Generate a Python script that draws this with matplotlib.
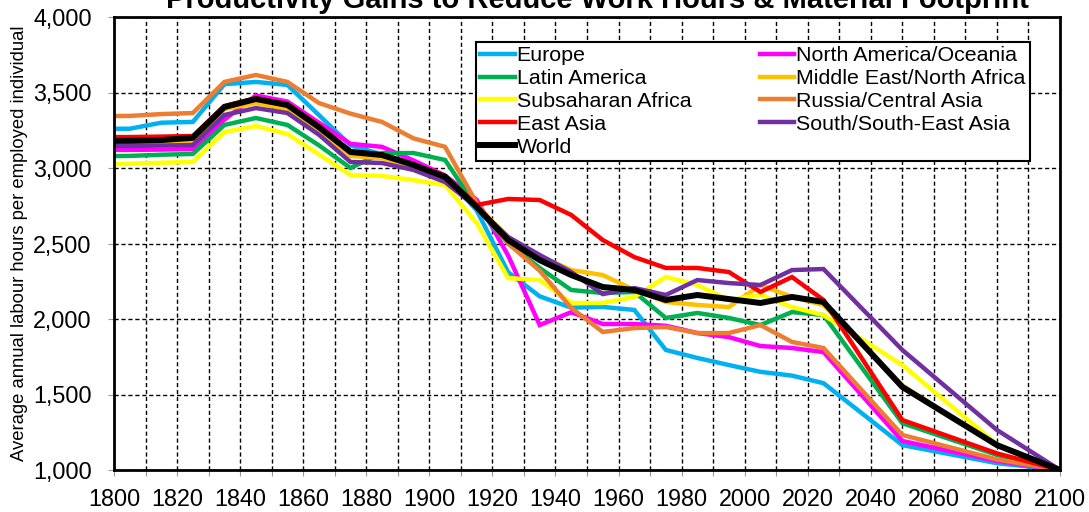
import matplotlib
matplotlib.use("Agg")
import matplotlib.pyplot as plt
from matplotlib.ticker import MultipleLocator, FuncFormatter

years = [1800, 1805, 1815, 1825, 1835, 1845, 1855, 1865, 1875, 1885, 1895, 1905, 1915,
         1925, 1935, 1945, 1955, 1965, 1975, 1985, 1995, 2005, 2015, 2025, 2050, 2080, 2100]

europe = [3260, 3260, 3300, 3305, 3555, 3570, 3550, 3350, 3150, 3090, 3030, 2950, 2720,
          2310, 2150, 2075, 2080, 2060, 1795, 1742, 1695, 1650, 1625, 1575, 1165, 1045, 1000]
north_america = [3120, 3120, 3122, 3125, 3320, 3480, 3440, 3300, 3160, 3140, 3050, 2950, 2790,
                 2420, 1960, 2045, 1967, 1967, 1955, 1907, 1880, 1821, 1808, 1781, 1192, 1060, 1000]
latin_america = [3079, 3080, 3088, 3093, 3285, 3331, 3285, 3150, 3000, 3099, 3099, 3053, 2740,
                 2500, 2338, 2192, 2172, 2179, 2007, 2040, 2007, 1960, 2046, 2026, 1310, 1100, 1000]
middle_east = [3172, 3172, 3175, 3180, 3390, 3430, 3390, 3250, 3080, 3066, 3007, 2941, 2750,
               2543, 2417, 2324, 2291, 2192, 2113, 2093, 2079, 2225, 2146, 2093, 1560, 1160, 1000]
subsaharan = [3026, 3028, 3035, 3040, 3238, 3278, 3225, 3090, 2954, 2947, 2920, 2887, 2636,
              2271, 2258, 2106, 2106, 2146, 2278, 2225, 2126, 2159, 2079, 2026, 1695, 1170, 1000]
russia = [3344, 3345, 3357, 3364, 3570, 3616, 3570, 3430, 3360, 3305, 3196, 3140, 2768,
          2500, 2320, 2073, 1914, 1940, 1947, 1907, 1907, 1960, 1848, 1808, 1232, 1070, 1000]
east_asia = [3205, 3205, 3208, 3212, 3410, 3462, 3425, 3280, 3110, 3088, 3025, 2948, 2755,
             2795, 2788, 2689, 2523, 2410, 2338, 2338, 2311, 2179, 2278, 2126, 1331, 1110, 1000]
south_asia = [3146, 3146, 3149, 3152, 3351, 3397, 3364, 3220, 3040, 3033, 2987, 2907, 2740,
              2543, 2424, 2311, 2165, 2205, 2159, 2258, 2238, 2225, 2324, 2331, 1795, 1265, 1000]
world = [3180, 3180, 3185, 3200, 3404, 3457, 3417, 3270, 3106, 3086, 3020, 2941, 2742,
         2523, 2390, 2291, 2212, 2192, 2126, 2159, 2132, 2106, 2146, 2113, 1550, 1165, 1000]

# drawing order (last one on top)
series = [
    ("Europe", europe, "#00B0F0"),
    ("North America/Oceania", north_america, "#FF00FF"),
    ("Latin America", latin_america, "#00B050"),
    ("Middle East/North Africa", middle_east, "#FFC000"),
    ("Subsaharan Africa", subsaharan, "#FFFF00"),
    ("Russia/Central Asia", russia, "#ED7D31"),
    ("East Asia", east_asia, "#FF0000"),
    ("South/South-East Asia", south_asia, "#7030A0"),
    ("World", world, "#000000"),
]

legend_order = ["Europe", "Latin America", "Subsaharan Africa", "East Asia", "World",
                "North America/Oceania", "Middle East/North Africa",
                "Russia/Central Asia", "South/South-East Asia"]

title = "Productivity Gains to Reduce Work Hours & Material Footprint"
ylabel = "Average annual labour hours per employed individual"


def main():
    plt.rcParams["font.family"] = ["Liberation Sans", "DejaVu Sans"]

    fig = plt.figure(figsize=(10.89, 5.12), dpi=100)
    ax = fig.add_axes([114 / 1089, 1 - 470 / 512, 946 / 1089, 453 / 512])

    lines = {}
    for name, values, color in series:
        lw = 4.3 if name == "World" else 3.2
        line, = ax.plot(years, values, color=color, lw=lw, label=name,
                        solid_joinstyle="miter", zorder=3)
        lines[name] = line

    ax.set_xlim(1800, 2100)
    ax.set_ylim(1000, 4000)
    ax.xaxis.set_major_locator(MultipleLocator(20))
    ax.xaxis.set_minor_locator(MultipleLocator(10))
    ax.yaxis.set_major_locator(MultipleLocator(500))
    ax.yaxis.set_major_formatter(FuncFormatter(lambda v, p: f"{int(v):,}"))

    ax.grid(True, which="both", axis="x", color="black", ls=(0, (3, 2)), lw=1.0, zorder=1)
    ax.grid(True, which="major", axis="y", color="black", ls=(0, (3, 2)), lw=1.0, zorder=1)

    ax.tick_params(axis="both", which="both", direction="out", length=4, color="#999999",
                   labelsize=16.8, width=0.8)
    ax.tick_params(axis="x", pad=9)
    ax.tick_params(axis="y", pad=12)
    for spine in ax.spines.values():
        spine.set_linewidth(2.0)
        spine.set_color("black")
        spine.set_zorder(4)

    ax.set_ylabel(ylabel, fontsize=13.3)
    ax.yaxis.set_label_coords(-0.091, 0.5)

    fig.text(597 / 1089, 1 - 8 / 512, title, ha="center",
             va="baseline", fontsize=21, fontweight="bold")

    leg = ax.legend([lines[n] for n in legend_order], legend_order, ncol=2,
                    loc="upper right", bbox_to_anchor=(0.968, 0.945), borderaxespad=0,
                    fontsize=15.4, frameon=True, fancybox=False, framealpha=1,
                    edgecolor="black", handlelength=1.6, handletextpad=0.1,
                    labelspacing=0.18, columnspacing=3.2, borderpad=0.2)
    leg.get_frame().set_linewidth(1.5)
    leg.set_zorder(5)

    fig.savefig("out.png", dpi=100)


if __name__ == "__main__":
    main()
